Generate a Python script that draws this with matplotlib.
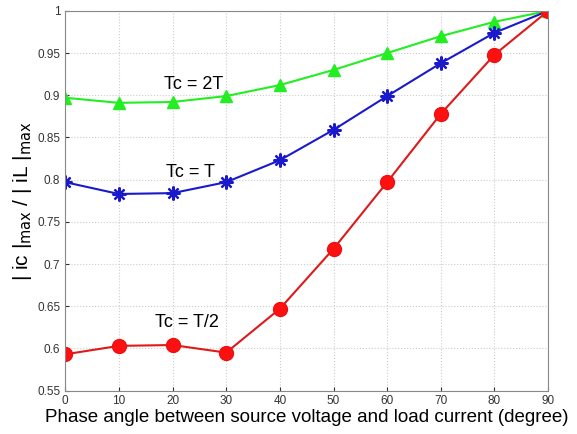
import matplotlib.pyplot as plt

plt.rcParams['font.family'] = ['Liberation Sans', 'DejaVu Sans']

angle = [0, 10, 20, 30, 40, 50, 60, 70, 80, 90]
ratio_2t = [0.897, 0.891, 0.892, 0.899, 0.912, 0.930, 0.950, 0.970, 0.987, 1.0]
ratio_t = [0.797, 0.783, 0.784, 0.797, 0.823, 0.859, 0.899, 0.938, 0.974, 1.0]
ratio_half = [0.593, 0.603, 0.604, 0.595, 0.647, 0.718, 0.797, 0.878, 0.948, 1.0]

fig = plt.figure(figsize=(5.77, 4.34), dpi=100)
ax = fig.add_axes([0.113, 0.1, 0.837, 0.875])

ax.plot(angle, ratio_2t, color='#22ee22', lw=1.5, marker='^', ms=9, mec='#22ee22')
ax.plot(angle, ratio_t, color='#1a1acc', lw=1.5, marker=(8, 2, 0), ms=10, mew=1.6, mec='#1a1acc')
ax.plot(angle, ratio_half, color='#dd1a1a', lw=1.5, marker='o', ms=10, mfc='#ff1010', mec='#ee1010')

ax.text(24, 0.913, 'Tc = 2T', fontsize=13, ha='center', va='center')
ax.text(23.3, 0.809, 'Tc = T', fontsize=13, ha='center', va='center')
ax.text(22.7, 0.631, 'Tc = T/2', fontsize=13, ha='center', va='center')

ax.set_xlim(0, 90)
ax.set_ylim(0.55, 1.0)
ax.set_xticks(angle)
ax.set_yticks([0.55, 0.6, 0.65, 0.7, 0.75, 0.8, 0.85, 0.9, 0.95, 1.0])
ax.set_yticklabels(['0.55', '0.6', '0.65', '0.7', '0.75', '0.8', '0.85', '0.9', '0.95', '1'])
ax.tick_params(direction='in', labelsize=8.5, colors='#333333', length=3)
ax.grid(True, color='#cccccc', linestyle=':', linewidth=0.8)
for s in ax.spines.values():
    s.set_color('#888888')

ax.set_xlabel('Phase angle between source voltage and load current (degree)', fontsize=13.5, labelpad=1)
ax.set_ylabel(r'| ic |$_{\mathrm{max}}$ / | iL |$_{\mathrm{max}}$', fontsize=15, labelpad=2)

fig.savefig('out.png', dpi=100)
